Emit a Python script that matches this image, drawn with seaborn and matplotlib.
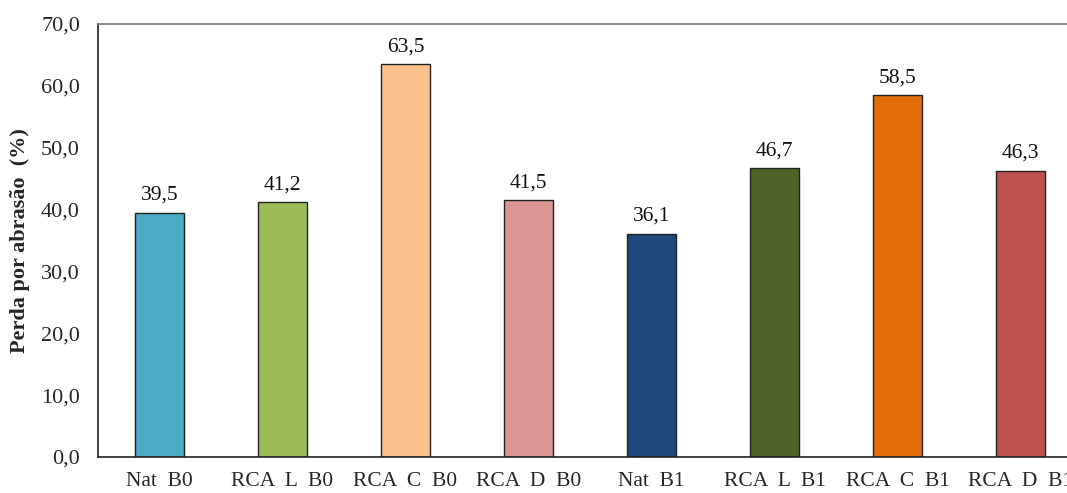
import matplotlib
matplotlib.use("Agg")
import matplotlib.pyplot as plt
import seaborn as sns
import pandas as pd

categories = ["Nat  B0", "RCA  L  B0", "RCA  C  B0", "RCA  D  B0",
              "Nat  B1", "RCA  L  B1", "RCA  C  B1", "RCA  D  B1"]
values = [39.5, 41.2, 63.5, 41.5, 36.1, 46.7, 58.5, 46.3]
colors = ["#4BACC6", "#9BBB59", "#FAC090", "#D99694",
          "#1F497D", "#4F6228", "#E46C0A", "#C0504D"]
yticks = [0, 10, 20, 30, 40, 50, 60, 70]

sns.set_style("white")
plt.rcParams["font.family"] = ["Liberation Serif", "DejaVu Serif"]

df = pd.DataFrame({"cat": categories, "val": values})

fig = plt.figure(figsize=(10.67, 4.93), dpi=100)
ax = fig.add_axes([98 / 1067, 36 / 493, 984 / 1067, 433 / 493])

sns.barplot(data=df, x="cat", y="val", hue="cat", palette=colors,
            legend=False, width=0.4, edgecolor="#222222", linewidth=1.0,
            saturation=1, ax=ax)

for i, v in enumerate(values):
    ax.text(i, v + 1.3, f"{v:.1f}".replace(".", ","), ha="center",
            va="bottom", fontsize=15.5, color="#111111")

ax.set_xlim(-0.5, 7.5)
ax.set_ylim(0, 70)
ax.set_yticks(yticks)
ax.set_yticklabels([f"{t:.1f}".replace(".", ",") for t in yticks], fontsize=16)
ax.tick_params(axis="y", direction="in", length=6, width=1, color="#222222", pad=13)
ax.tick_params(axis="x", length=0, pad=11, labelsize=15.5)
ax.set_xlabel("")
ax.set_ylabel("Perda por abrasão  (%)", fontsize=16, fontweight="bold", labelpad=8)

for s in ["left", "bottom"]:
    ax.spines[s].set_color("#222222")
    ax.spines[s].set_linewidth(1.2)
ax.spines["top"].set_color("#777777")
ax.spines["top"].set_linewidth(1.2)
ax.spines["right"].set_visible(False)

fig.savefig("out.png", dpi=100)
